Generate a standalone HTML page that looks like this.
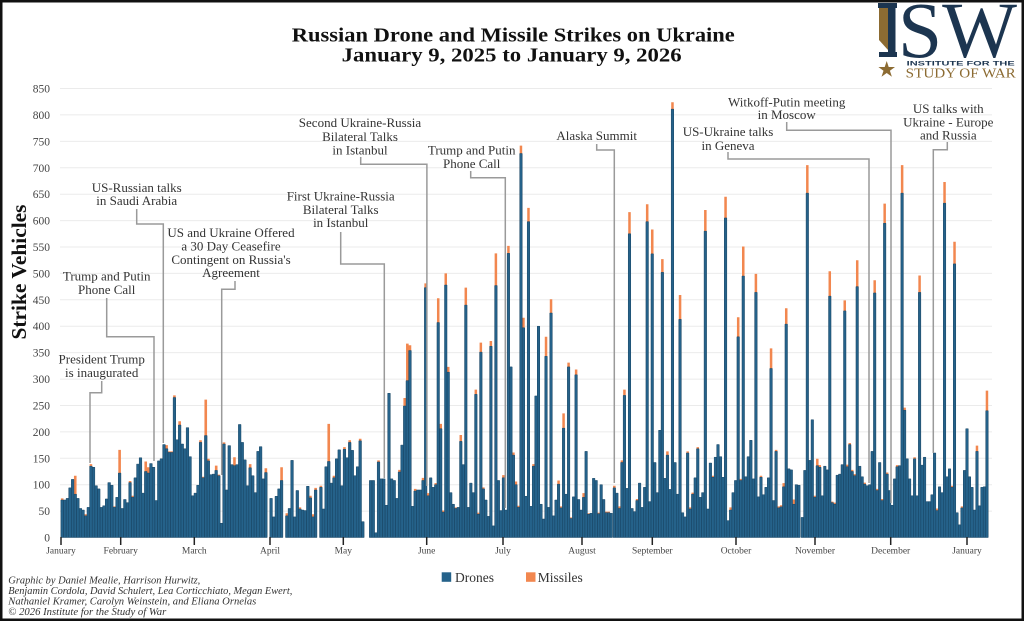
<!DOCTYPE html>
<html><head><meta charset="utf-8"><style>
html,body{margin:0;padding:0;background:#fff;}
svg{display:block;}
.b{fill:#25628a;stroke:#1a4766;stroke-width:0.5;}
.o{fill:#f2874f;}
.ann{font-family:"Liberation Serif",serif;font-size:13px;fill:#333;text-anchor:middle;}
.ln{fill:none;stroke:#9a9a9a;stroke-width:1.5;}
.yt{font-family:"Liberation Serif",serif;font-size:11.5px;fill:#444;text-anchor:end;}
.mt{font-family:"Liberation Serif",serif;font-size:9.5px;fill:#444;text-anchor:middle;}
.ft{font-family:"Liberation Serif",serif;font-size:10.5px;font-style:italic;fill:#333;}
</style></head><body>
<svg width="1024" height="621" viewBox="0 0 1024 621" xmlns="http://www.w3.org/2000/svg">
<rect x="0" y="0" width="1024" height="621" fill="#fff"/>
<!-- gridlines -->
<g stroke="#ebebeb" stroke-width="1">
<line x1="60" x2="992" y1="511.1" y2="511.1"/><line x1="60" x2="992" y1="484.7" y2="484.7"/><line x1="60" x2="992" y1="458.3" y2="458.3"/><line x1="60" x2="992" y1="431.9" y2="431.9"/><line x1="60" x2="992" y1="405.5" y2="405.5"/><line x1="60" x2="992" y1="379.1" y2="379.1"/><line x1="60" x2="992" y1="352.6" y2="352.6"/><line x1="60" x2="992" y1="326.2" y2="326.2"/><line x1="60" x2="992" y1="299.8" y2="299.8"/><line x1="60" x2="992" y1="273.4" y2="273.4"/><line x1="60" x2="992" y1="247" y2="247"/><line x1="60" x2="992" y1="220.6" y2="220.6"/><line x1="60" x2="992" y1="194.2" y2="194.2"/><line x1="60" x2="992" y1="167.8" y2="167.8"/><line x1="60" x2="992" y1="141.4" y2="141.4"/><line x1="60" x2="992" y1="114.9" y2="114.9"/><line x1="60" x2="992" y1="88.5" y2="88.5"/>
</g>
<!-- y tick labels -->
<g class="yt">
<text x="50" y="541.5">0</text><text x="50" y="515.1">50</text><text x="50" y="488.7">100</text><text x="50" y="462.3">150</text><text x="50" y="435.9">200</text><text x="50" y="409.5">250</text><text x="50" y="383.1">300</text><text x="50" y="356.6">350</text><text x="50" y="330.2">400</text><text x="50" y="303.8">450</text><text x="50" y="277.4">500</text><text x="50" y="251">550</text><text x="50" y="224.6">600</text><text x="50" y="198.2">650</text><text x="50" y="171.8">700</text><text x="50" y="145.4">750</text><text x="50" y="118.9">800</text><text x="50" y="92.5">850</text>
</g>
<text transform="translate(26,272) rotate(-90)" text-anchor="middle" font-family="Liberation Serif, serif" font-weight="bold" font-size="21" fill="#111" textLength="135" lengthAdjust="spacingAndGlyphs">Strike Vehicles</text>

<!-- Title -->
<text x="513.3" y="41.7" text-anchor="middle" font-family="Liberation Serif, serif" font-weight="bold" font-size="20" fill="#111" textLength="443" lengthAdjust="spacingAndGlyphs">Russian Drone and Missile Strikes on Ukraine</text>
<text x="511.7" y="61.7" text-anchor="middle" font-family="Liberation Serif, serif" font-weight="bold" font-size="20" fill="#111" textLength="340" lengthAdjust="spacingAndGlyphs">January 9, 2025 to January 9, 2026</text>

<!-- Logo -->
<rect x="878" y="3" width="19" height="5" fill="#1c3550"/>
<path d="M879 8H888V50L883.5 45L879 40Z" fill="#8c6b32"/>
<rect x="888" y="3" width="7.5" height="54" fill="#1c3550"/>
<rect x="879" y="52" width="18" height="5" fill="#1c3550"/>
<text x="898" y="57" font-family="Liberation Serif, serif" font-size="79" fill="#1c3550" textLength="119" lengthAdjust="spacingAndGlyphs">SW</text>
<polygon points="886.7,61 888.7,67 895,67 889.9,70.7 891.9,76.8 886.7,73 881.5,76.8 883.5,70.7 878.4,67 884.7,67" fill="#8c6b32"/>
<text x="906.7" y="65.7" font-family="Liberation Sans, sans-serif" font-weight="bold" font-size="6" fill="#1c3550" textLength="108" lengthAdjust="spacingAndGlyphs">INSTITUTE FOR THE</text>
<text x="905.7" y="77.3" font-family="Liberation Serif, serif" font-size="13.5" fill="#8c6b32" textLength="110" lengthAdjust="spacingAndGlyphs">STUDY OF WAR</text>

<!-- Bars group A -->
<g transform="translate(62.2 537.5) scale(2.61 -0.5282)">
<path class="o" d="M-.5 0h1v74h-1zM4.5 0h1v117h-1zM8.5 0h1v44h-1zM10.5 0h1v139h-1zM19.5 0h1v59h-1zM21.5 0h1v166h-1zM25.5 0h1v107h-1zM26.5 0h1v79h-1zM31.5 0h1v144h-1zM32.5 0h1v133h-1zM39.5 0h1v175h-1zM40.5 0h1v163h-1zM41.5 0h1v163h-1zM42.5 0h1v269h-1zM44.5 0h1v220h-1zM52.5 0h1v184h-1zM53.5 0h1v115h-1zM54.5 0h1v261h-1zM55.5 0h1v149h-1zM58.5 0h1v136h-1zM59.5 0h1v119h-1zM61.5 0h1v180h-1zM65.5 0h1v152h-1z"/>
<path class="b" vector-effect="non-scaling-stroke" d="M-.5 0h1v71h-1zM.5 0h1v71h-1zM1.5 0h1v74h-1zM2.5 0h1v94h-1zM3.5 0h1v110h-1zM4.5 0h1v82h-1zM5.5 0h1v74h-1zM6.5 0h1v55h-1zM7.5 0h1v52h-1zM8.5 0h1v41h-1zM9.5 0h1v57h-1zM10.5 0h1v135h-1zM11.5 0h1v133h-1zM12.5 0h1v98h-1zM13.5 0h1v92h-1zM14.5 0h1v57h-1zM15.5 0h1v60h-1zM16.5 0h1v73h-1zM17.5 0h1v104h-1zM18.5 0h1v99h-1zM19.5 0h1v57h-1zM20.5 0h1v76h-1zM21.5 0h1v122h-1zM22.5 0h1v55h-1zM23.5 0h1v72h-1zM24.5 0h1v66h-1zM25.5 0h1v104h-1zM26.5 0h1v76h-1zM27.5 0h1v113h-1zM28.5 0h1v139h-1zM29.5 0h1v151h-1zM30.5 0h1v84h-1zM31.5 0h1v125h-1zM32.5 0h1v122h-1zM33.5 0h1v140h-1zM34.5 0h1v133h-1zM35.5 0h1v70h-1zM36.5 0h1v145h-1zM37.5 0h1v149h-1zM38.5 0h1v176h-1zM39.5 0h1v168h-1zM40.5 0h1v161h-1zM41.5 0h1v161h-1zM42.5 0h1v265h-1zM43.5 0h1v185h-1zM44.5 0h1v213h-1zM45.5 0h1v177h-1zM46.5 0h1v168h-1zM47.5 0h1v208h-1zM48.5 0h1v153h-1zM49.5 0h1v79h-1zM50.5 0h1v84h-1zM51.5 0h1v99h-1zM52.5 0h1v180h-1zM53.5 0h1v113h-1zM54.5 0h1v193h-1zM55.5 0h1v145h-1zM56.5 0h1v119h-1zM57.5 0h1v120h-1zM58.5 0h1v127h-1zM59.5 0h1v117h-1zM60.5 0h1v27h-1zM61.5 0h1v177h-1zM62.5 0h1v90h-1zM63.5 0h1v174h-1zM64.5 0h1v138h-1zM65.5 0h1v136h-1zM66.5 0h1v138h-1zM67.5 0h1v214h-1zM68.5 0h1v180h-1z"/>
</g>
<!-- Bars group B -->
<g transform="translate(244.9 537.5) scale(2.62 -0.5282)">
<path class="o" d="M1.5 0h1v139h-1zM7.5 0h1v131h-1zM13.5 0h1v133h-1zM15.5 0h1v46h-1zM20.5 0h1v57h-1zM24.5 0h1v79h-1zM25.5 0h1v44h-1zM26.5 0h1v94h-1zM28.5 0h1v98h-1zM31.5 0h1v215h-1zM33.5 0h1v117h-1zM37.5 0h1v171h-1zM39.5 0h1v184h-1zM43.5 0h1v187h-1zM50.5 0h1v146h-1zM58.5 0h1v128h-1zM60.5 0h1v264h-1zM61.5 0h1v367h-1zM62.5 0h1v364h-1zM64.5 0h1v92h-1zM67.5 0h1v113h-1zM68.5 0h1v481h-1z"/>
<path class="b" vector-effect="non-scaling-stroke" d="M-.5 0h1v147h-1zM.5 0h1v98h-1zM1.5 0h1v132h-1zM2.5 0h1v117h-1zM3.5 0h1v85h-1zM4.5 0h1v163h-1zM5.5 0h1v172h-1zM6.5 0h1v111h-1zM7.5 0h1v123h-1zM9.5 0h1v74h-1zM10.5 0h1v39h-1zM11.5 0h1v78h-1zM12.5 0h1v92h-1zM13.5 0h1v108h-1zM15.5 0h1v41h-1zM16.5 0h1v55h-1zM17.5 0h1v146h-1zM18.5 0h1v39h-1zM19.5 0h1v89h-1zM20.5 0h1v54h-1zM21.5 0h1v52h-1zM22.5 0h1v51h-1zM23.5 0h1v97h-1zM24.5 0h1v75h-1zM25.5 0h1v39h-1zM26.5 0h1v90h-1zM28.5 0h1v95h-1zM29.5 0h1v54h-1zM30.5 0h1v134h-1zM31.5 0h1v144h-1zM32.5 0h1v103h-1zM33.5 0h1v113h-1zM34.5 0h1v149h-1zM35.5 0h1v166h-1zM36.5 0h1v98h-1zM37.5 0h1v167h-1zM38.5 0h1v151h-1zM39.5 0h1v180h-1zM40.5 0h1v165h-1zM41.5 0h1v117h-1zM42.5 0h1v134h-1zM43.5 0h1v183h-1zM44.5 0h1v30h-1zM47.5 0h1v108h-1zM48.5 0h1v108h-1zM49.5 0h1v9h-1zM50.5 0h1v143h-1zM51.5 0h1v111h-1zM52.5 0h1v111h-1zM53.5 0h1v61h-1zM54.5 0h1v273h-1zM55.5 0h1v111h-1zM56.5 0h1v108h-1zM57.5 0h1v74h-1zM58.5 0h1v124h-1zM59.5 0h1v175h-1zM60.5 0h1v249h-1zM61.5 0h1v297h-1zM62.5 0h1v354h-1zM63.5 0h1v59h-1zM64.5 0h1v88h-1zM65.5 0h1v90h-1zM66.5 0h1v90h-1zM67.5 0h1v108h-1zM68.5 0h1v473h-1z"/>
</g>
<!-- Bars group C -->
<g transform="translate(428.2 537.5) scale(2.507 -0.5282)">
<path class="o" d="M-.5 0h1v84h-1zM2.5 0h1v103h-1zM3.5 0h1v453h-1zM4.5 0h1v215h-1zM5.5 0h1v51h-1zM6.5 0h1v500h-1zM7.5 0h1v323h-1zM10.5 0h1v57h-1zM12.5 0h1v194h-1zM14.5 0h1v473h-1zM18.5 0h1v280h-1zM19.5 0h1v47h-1zM20.5 0h1v369h-1zM21.5 0h1v95h-1zM24.5 0h1v372h-1zM26.5 0h1v538h-1zM29.5 0h1v118h-1zM31.5 0h1v552h-1zM33.5 0h1v161h-1zM34.5 0h1v106h-1zM35.5 0h1v60h-1zM36.5 0h1v742h-1zM37.5 0h1v416h-1zM39.5 0h1v624h-1zM41.5 0h1v139h-1zM46.5 0h1v380h-1zM48.5 0h1v451h-1zM51.5 0h1v108h-1zM52.5 0h1v59h-1zM53.5 0h1v235h-1zM55.5 0h1v331h-1zM56.5 0h1v38h-1zM58.5 0h1v318h-1zM61.5 0h1v84h-1zM63.5 0h1v46h-1zM67.5 0h1v47h-1zM70.5 0h1v49h-1zM71.5 0h1v49h-1z"/>
<path class="b" vector-effect="non-scaling-stroke" d="M-.5 0h1v79h-1zM.5 0h1v113h-1zM1.5 0h1v95h-1zM2.5 0h1v100h-1zM3.5 0h1v407h-1zM4.5 0h1v206h-1zM5.5 0h1v48h-1zM6.5 0h1v478h-1zM7.5 0h1v313h-1zM8.5 0h1v85h-1zM9.5 0h1v63h-1zM10.5 0h1v55h-1zM11.5 0h1v57h-1zM12.5 0h1v182h-1zM13.5 0h1v138h-1zM14.5 0h1v440h-1zM15.5 0h1v57h-1zM16.5 0h1v103h-1zM17.5 0h1v85h-1zM18.5 0h1v271h-1zM19.5 0h1v44h-1zM20.5 0h1v351h-1zM21.5 0h1v92h-1zM22.5 0h1v71h-1zM23.5 0h1v40h-1zM24.5 0h1v362h-1zM25.5 0h1v22h-1zM26.5 0h1v477h-1zM27.5 0h1v108h-1zM28.5 0h1v51h-1zM29.5 0h1v113h-1zM30.5 0h1v52h-1zM31.5 0h1v538h-1zM32.5 0h1v323h-1zM33.5 0h1v156h-1zM34.5 0h1v100h-1zM35.5 0h1v57h-1zM36.5 0h1v727h-1zM37.5 0h1v397h-1zM38.5 0h1v78h-1zM39.5 0h1v598h-1zM40.5 0h1v59h-1zM41.5 0h1v135h-1zM42.5 0h1v268h-1zM43.5 0h1v400h-1zM44.5 0h1v63h-1zM45.5 0h1v35h-1zM46.5 0h1v343h-1zM47.5 0h1v57h-1zM48.5 0h1v425h-1zM49.5 0h1v41h-1zM50.5 0h1v71h-1zM51.5 0h1v101h-1zM52.5 0h1v56h-1zM53.5 0h1v207h-1zM54.5 0h1v82h-1zM55.5 0h1v323h-1zM56.5 0h1v36h-1zM57.5 0h1v77h-1zM58.5 0h1v308h-1zM59.5 0h1v72h-1zM60.5 0h1v52h-1zM61.5 0h1v76h-1zM62.5 0h1v163h-1zM63.5 0h1v44h-1zM64.5 0h1v46h-1zM65.5 0h1v112h-1zM66.5 0h1v108h-1zM67.5 0h1v45h-1zM68.5 0h1v100h-1zM69.5 0h1v72h-1zM70.5 0h1v47h-1zM71.5 0h1v47h-1zM72.5 0h1v46h-1z"/>
</g>
<!-- Bars group D -->
<g transform="translate(614.33 537.5) scale(2.528 -0.5282)">
<path class="o" d="M-.5 0h1v98h-1zM1.5 0h1v59h-1zM2.5 0h1v146h-1zM3.5 0h1v280h-1zM5.5 0h1v616h-1zM8.5 0h1v73h-1zM12.5 0h1v631h-1zM14.5 0h1v583h-1zM18.5 0h1v527h-1zM20.5 0h1v163h-1zM22.5 0h1v824h-1zM25.5 0h1v459h-1zM28.5 0h1v163h-1zM29.5 0h1v57h-1zM30.5 0h1v85h-1zM32.5 0h1v171h-1zM35.5 0h1v620h-1zM38.5 0h1v117h-1zM43.5 0h1v645h-1zM45.5 0h1v57h-1zM48.5 0h1v417h-1zM49.5 0h1v111h-1zM50.5 0h1v551h-1zM55.5 0h1v499h-1zM57.5 0h1v117h-1zM61.5 0h1v358h-1zM63.5 0h1v166h-1zM64.5 0h1v59h-1zM65.5 0h1v61h-1zM66.5 0h1v103h-1zM67.5 0h1v434h-1zM70.5 0h1v72h-1z"/>
<path class="b" vector-effect="non-scaling-stroke" d="M-.5 0h1v94h-1zM.5 0h1v84h-1zM1.5 0h1v55h-1zM2.5 0h1v142h-1zM3.5 0h1v269h-1zM4.5 0h1v93h-1zM5.5 0h1v575h-1zM6.5 0h1v55h-1zM7.5 0h1v49h-1zM8.5 0h1v70h-1zM9.5 0h1v103h-1zM10.5 0h1v57h-1zM11.5 0h1v95h-1zM12.5 0h1v598h-1zM13.5 0h1v68h-1zM14.5 0h1v537h-1zM15.5 0h1v142h-1zM16.5 0h1v85h-1zM17.5 0h1v203h-1zM18.5 0h1v502h-1zM19.5 0h1v112h-1zM20.5 0h1v156h-1zM21.5 0h1v91h-1zM22.5 0h1v811h-1zM23.5 0h1v142h-1zM24.5 0h1v82h-1zM25.5 0h1v413h-1zM26.5 0h1v47h-1zM27.5 0h1v39h-1zM28.5 0h1v160h-1zM29.5 0h1v54h-1zM30.5 0h1v82h-1zM31.5 0h1v113h-1zM32.5 0h1v168h-1zM33.5 0h1v76h-1zM34.5 0h1v85h-1zM35.5 0h1v580h-1zM36.5 0h1v54h-1zM37.5 0h1v141h-1zM38.5 0h1v114h-1zM39.5 0h1v152h-1zM40.5 0h1v176h-1zM41.5 0h1v153h-1zM42.5 0h1v114h-1zM43.5 0h1v605h-1zM44.5 0h1v32h-1zM45.5 0h1v52h-1zM46.5 0h1v85h-1zM47.5 0h1v108h-1zM48.5 0h1v380h-1zM49.5 0h1v108h-1zM50.5 0h1v495h-1zM51.5 0h1v115h-1zM52.5 0h1v153h-1zM53.5 0h1v184h-1zM54.5 0h1v111h-1zM55.5 0h1v464h-1zM56.5 0h1v77h-1zM57.5 0h1v114h-1zM58.5 0h1v81h-1zM59.5 0h1v95h-1zM60.5 0h1v113h-1zM61.5 0h1v320h-1zM62.5 0h1v70h-1zM63.5 0h1v163h-1zM64.5 0h1v56h-1zM65.5 0h1v58h-1zM66.5 0h1v96h-1zM67.5 0h1v404h-1zM68.5 0h1v130h-1zM69.5 0h1v128h-1zM70.5 0h1v63h-1zM71.5 0h1v100h-1zM72.5 0h1v99h-1z"/>
</g>
<!-- Bars group E -->
<g transform="translate(802.33 537.5) scale(2.495 -0.5282)">
<path class="o" d="M1.5 0h1v705h-1zM4.5 0h1v79h-1zM5.5 0h1v149h-1zM6.5 0h1v137h-1zM10.5 0h1v504h-1zM11.5 0h1v68h-1zM12.5 0h1v66h-1zM16.5 0h1v449h-1zM17.5 0h1v138h-1zM18.5 0h1v179h-1zM19.5 0h1v128h-1zM20.5 0h1v120h-1zM21.5 0h1v525h-1zM24.5 0h1v104h-1zM28.5 0h1v487h-1zM29.5 0h1v92h-1zM31.5 0h1v73h-1zM32.5 0h1v632h-1zM33.5 0h1v123h-1zM37.5 0h1v137h-1zM39.5 0h1v705h-1zM40.5 0h1v246h-1zM44.5 0h1v152h-1zM46.5 0h1v496h-1zM53.5 0h1v55h-1zM56.5 0h1v673h-1zM59.5 0h1v98h-1zM60.5 0h1v560h-1zM63.5 0h1v59h-1zM69.5 0h1v174h-1zM73.5 0h1v278h-1z"/>
<path class="b" vector-effect="non-scaling-stroke" d="M-.5 0h1v38h-1zM.5 0h1v127h-1zM1.5 0h1v652h-1zM2.5 0h1v146h-1zM3.5 0h1v223h-1zM4.5 0h1v76h-1zM5.5 0h1v136h-1zM6.5 0h1v133h-1zM7.5 0h1v79h-1zM8.5 0h1v135h-1zM9.5 0h1v128h-1zM10.5 0h1v457h-1zM11.5 0h1v66h-1zM12.5 0h1v63h-1zM13.5 0h1v118h-1zM14.5 0h1v120h-1zM15.5 0h1v138h-1zM16.5 0h1v429h-1zM17.5 0h1v134h-1zM18.5 0h1v176h-1zM19.5 0h1v125h-1zM20.5 0h1v117h-1zM21.5 0h1v475h-1zM22.5 0h1v135h-1zM23.5 0h1v115h-1zM24.5 0h1v101h-1zM25.5 0h1v98h-1zM26.5 0h1v100h-1zM27.5 0h1v163h-1zM28.5 0h1v463h-1zM29.5 0h1v89h-1zM30.5 0h1v142h-1zM31.5 0h1v70h-1zM32.5 0h1v595h-1zM33.5 0h1v120h-1zM34.5 0h1v89h-1zM35.5 0h1v61h-1zM36.5 0h1v111h-1zM37.5 0h1v134h-1zM38.5 0h1v136h-1zM39.5 0h1v652h-1zM40.5 0h1v241h-1zM41.5 0h1v149h-1zM42.5 0h1v111h-1zM43.5 0h1v79h-1zM44.5 0h1v149h-1zM45.5 0h1v79h-1zM46.5 0h1v464h-1zM47.5 0h1v137h-1zM48.5 0h1v152h-1zM49.5 0h1v68h-1zM50.5 0h1v68h-1zM51.5 0h1v81h-1zM52.5 0h1v160h-1zM53.5 0h1v51h-1zM54.5 0h1v96h-1zM55.5 0h1v85h-1zM56.5 0h1v633h-1zM57.5 0h1v115h-1zM58.5 0h1v130h-1zM59.5 0h1v95h-1zM60.5 0h1v518h-1zM61.5 0h1v47h-1zM62.5 0h1v24h-1zM63.5 0h1v56h-1zM64.5 0h1v127h-1zM65.5 0h1v206h-1zM66.5 0h1v115h-1zM67.5 0h1v95h-1zM68.5 0h1v52h-1zM69.5 0h1v163h-1zM70.5 0h1v60h-1zM71.5 0h1v95h-1zM72.5 0h1v96h-1zM73.5 0h1v240h-1z"/>
</g>

<!-- month ticks -->
<g stroke="#222" stroke-width="1.5">
<line x1="61" x2="61" y1="537" y2="545"/><line x1="120.7" x2="120.7" y1="537" y2="545"/><line x1="194.3" x2="194.3" y1="537" y2="545"/><line x1="270" x2="270" y1="537" y2="545"/><line x1="343.3" x2="343.3" y1="537" y2="545"/><line x1="426.7" x2="426.7" y1="537" y2="545"/><line x1="503" x2="503" y1="537" y2="545"/><line x1="582" x2="582" y1="537" y2="545"/><line x1="652.3" x2="652.3" y1="537" y2="545"/><line x1="736" x2="736" y1="537" y2="545"/><line x1="815" x2="815" y1="537" y2="545"/><line x1="890.7" x2="890.7" y1="537" y2="545"/><line x1="967" x2="967" y1="537" y2="545"/>
</g>
<g class="mt">
<text x="61" y="553.5">January</text><text x="120.7" y="553.5">February</text><text x="194.3" y="553.5">March</text><text x="270" y="553.5">April</text><text x="343.3" y="553.5">May</text><text x="426.7" y="553.5">June</text><text x="503" y="553.5">July</text><text x="582" y="553.5">August</text><text x="652.3" y="553.5">September</text><text x="736" y="553.5">October</text><text x="815" y="553.5">November</text><text x="890.7" y="553.5">December</text><text x="967" y="553.5">January</text>
</g>

<!-- annotation lines -->
<g class="ln">
<path d="M101.7 381V392.7H90V463"/>
<path d="M106.7 298V336.7H154V461"/>
<path d="M136.7 209V224H163.3V443"/>
<path d="M235 281V289.3H221.7V475"/>
<path d="M340.7 232V264H384.3V478"/>
<path d="M360.7 157V164.3H426.9V486"/>
<path d="M470.7 171V177.7H505.3V508"/>
<path d="M596.7 144V150H614.3V483"/>
<path d="M728 152V159H869V483"/>
<path d="M786.7 122V130.3H891V503"/>
<path d="M947.3 142V149.7H933.3V453"/>
</g>
<!-- annotation text -->
<g class="ann">
<text x="101.7" y="363.5">President Trump</text><text x="101.7" y="377">is inaugurated</text>
<text x="106.7" y="280.5">Trump and Putin</text><text x="106.7" y="293.8">Phone Call</text>
<text x="136.7" y="191.8">US-Russian talks</text><text x="136.7" y="205.2">in Saudi Arabia</text>
<text x="231" y="237.2">US and Ukraine Offered</text><text x="231" y="250.5">a 30 Day Ceasefire</text><text x="231" y="263.8">Contingent on Russia's</text><text x="231" y="277.2">Agreement</text>
<text x="340.7" y="200.5">First Ukraine-Russia</text><text x="340.7" y="213.8">Bilateral Talks</text><text x="340.7" y="227.2">in Istanbul</text>
<text x="360" y="127.2">Second Ukraine-Russia</text><text x="360" y="141.2">Bilateral Talks</text><text x="360" y="154.5">in Istanbul</text>
<text x="471.7" y="154.5">Trump and Putin</text><text x="471.7" y="167.8">Phone Call</text>
<text x="596.7" y="140.2">Alaska Summit</text>
<text x="728" y="135.8">US-Ukraine talks</text><text x="728" y="149.8">in Geneva</text>
<text x="786.7" y="106.5">Witkoff-Putin meeting</text><text x="786.7" y="119.2">in Moscow</text>
<text x="948.3" y="113.2">US talks with</text><text x="948.3" y="126.5">Ukraine - Europe</text><text x="948.3" y="139.5">and Russia</text>
</g>

<!-- legend -->
<rect x="441.7" y="572.3" width="9.5" height="9.5" fill="#25628a"/>
<text x="455" y="581.8" font-family="Liberation Serif, serif" font-size="13.5" fill="#333">Drones</text>
<rect x="526" y="572.3" width="9.5" height="9.5" fill="#f2874f"/>
<text x="537.7" y="581.8" font-family="Liberation Serif, serif" font-size="13.5" fill="#333">Missiles</text>

<!-- footer -->
<text class="ft" x="8.3" y="583.5" textLength="192" lengthAdjust="spacingAndGlyphs">Graphic by Daniel Mealie, Harrison Hurwitz,</text>
<text class="ft" x="8.3" y="594" textLength="284" lengthAdjust="spacingAndGlyphs">Benjamin Cordola, David Schulert, Lea Corticchiato, Megan Ewert,</text>
<text class="ft" x="8.3" y="604.5" textLength="248" lengthAdjust="spacingAndGlyphs">Nathaniel Kramer, Carolyn Weinstein, and Eliana Ornelas</text>
<text class="ft" x="8.3" y="615" textLength="158" lengthAdjust="spacingAndGlyphs">© 2026 Institute for the Study of War</text>

<!-- frame -->
<rect x="1.25" y="1.25" width="1021.5" height="618.5" fill="none" stroke="#111" stroke-width="2.5"/>
</svg>
</body></html>
